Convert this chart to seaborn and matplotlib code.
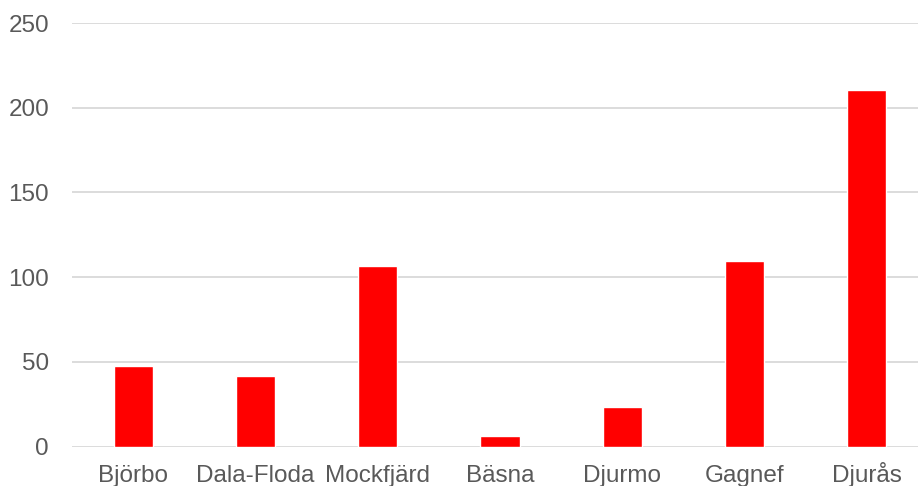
import matplotlib
matplotlib.use("Agg")
import matplotlib.pyplot as plt
import seaborn as sns
import pandas as pd

categories = ["Björbo", "Dala-Floda", "Mockfjärd", "Bäsna", "Djurmo", "Gagnef", "Djurås"]
values = [47.5, 41.5, 106.5, 6, 23.5, 109.5, 210.5]
yticks = [0, 50, 100, 150, 200, 250]

sns.set_theme(style="white")
plt.rcParams['font.family'] = ['Liberation Sans', 'DejaVu Sans']

df = pd.DataFrame({"ort": categories, "antal": values})

fig = plt.figure(figsize=(9.18, 4.86), dpi=100)
W, H = 918, 486
ax = fig.add_axes([72 / W, (H - 446.5) / H, (918 - 72) / W, (446.5 - 23) / H])

sns.barplot(data=df, x="ort", y="antal", order=categories, color="#FF0000",
            width=0.32, saturation=1, ax=ax, zorder=3)

ax.set_ylim(0, 250)
ax.set_xlim(-0.5, 6.5 - 10 / 122.3)
ax.set_yticks(yticks)
ax.set_yticklabels([str(t) for t in yticks])
ax.grid(axis="y", color="#D9D9D9", linewidth=1.3, zorder=0)
ax.grid(axis="x", visible=False)
for s in ax.spines.values():
    s.set_visible(False)
ax.set_xlabel("")
ax.set_ylabel("")
ax.tick_params(axis="both", length=0, labelsize=17.5, labelcolor="#595959")
ax.tick_params(axis="y", pad=16.5)
ax.tick_params(axis="x", pad=25.5)
for lbl in ax.get_xticklabels():
    lbl.set_verticalalignment("baseline")

fig.savefig("out.png", dpi=100)
